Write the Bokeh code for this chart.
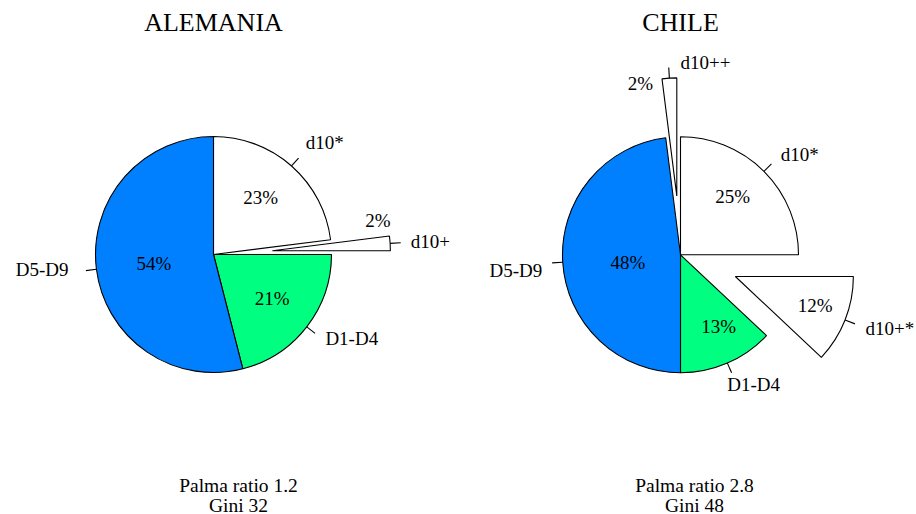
import math
from bokeh.plotting import figure
from bokeh.models import Range1d, ColumnDataSource
from bokeh.embed import file_html
from bokeh.resources import INLINE
from bokeh.core.properties import value

# ---------------- data ----------------
titles = ["ALEMANIA", "CHILE"]
subtitle_palma = ["Palma ratio 1.2", "Palma ratio 2.8"]
subtitle_gini = ["Gini 32", "Gini 48"]

de_names = ["d10*", "d10+", "D1-D4", "D5-D9"]
de_shares = [23, 2, 21, 54]
de_explode = [0, 1, 0, 0]

cl_names = ["d10*", "d10+*", "D1-D4", "D5-D9", "d10++"]
cl_shares = [25, 12, 13, 48, 2]
cl_explode = [0, 1, 0, 0, 1]

# ---------------- style / layout ----------------
FONT = value("Liberation Serif")
COLORS = {"D1-D4": "#00FF80", "D5-D9": "#0080FF"}
W, H = 916, 514
R = 118
EXPL = 59
PAGE_H = 514

def Y(iy):
    return PAGE_H - iy

charts = [
    dict(names=de_names, shares=de_shares, explode=de_explode,
         center=(213, 254), sub_x=238,
         pct_r=[0.63, 0.93, 0.62, 0.51], pct_da=[2, 12.5, 1, 1.3],
         align=["left", "left", "left", "right"],
         ndx=[-1.5, -3, 0, -4.5], ndy=[-6, 0, -3, -3]),
    dict(names=cl_names, shares=cl_shares, explode=cl_explode,
         center=(680, 254.3), sub_x=694,
         pct_r=[0.66, 0.72, 0.69, 0.45, 1.0], pct_da=[3, 1.7, 4.5, 4.4, 14.3],
         align=["left", "left", "left", "right", "left"],
         ndx=[0, -1.5, -9.5, 3, 12.6], ndy=[0, 0, 0, 7, 7.6]),
]

p = figure(width=W, height=H, output_backend="svg", toolbar_location=None,
           x_range=Range1d(0, W), y_range=Range1d(PAGE_H - H, PAGE_H),
           min_border=0)
p.axis.visible = False
p.grid.visible = False
p.outline_line_color = None
p.background_fill_color = "white"

wedges = dict(x=[], y=[], s=[], e=[], c=[])
segs = dict(x0=[], y0=[], x1=[], y1=[])
pcts = dict(x=[], y=[], t=[])
names = {"left": dict(x=[], y=[], t=[]), "right": dict(x=[], y=[], t=[]),
         "center": dict(x=[], y=[], t=[])}

for ch in charts:
    cx0, cy0 = ch["center"][0], Y(ch["center"][1])
    cum = 0
    for i, s in enumerate(ch["shares"]):
        a0 = 90 - cum * 3.6
        a1 = 90 - (cum + s) * 3.6
        cum += s
        mid = math.radians((a0 + a1) / 2)
        cx, cy = cx0, cy0
        if ch["explode"][i]:
            cx += EXPL * math.cos(mid)
            cy += EXPL * math.sin(mid)
        nm = ch["names"][i]
        wedges["x"].append(cx); wedges["y"].append(cy)
        wedges["s"].append(math.radians(a1)); wedges["e"].append(math.radians(a0))
        wedges["c"].append(COLORS.get(nm, "white"))
        segs["x0"].append(cx + R * math.cos(mid)); segs["y0"].append(cy + R * math.sin(mid))
        segs["x1"].append(cx + 1.09 * R * math.cos(mid)); segs["y1"].append(cy + 1.09 * R * math.sin(mid))
        pa = mid + math.radians(ch["pct_da"][i])
        pr = ch["pct_r"][i] * R
        pcts["x"].append(cx + pr * math.cos(pa)); pcts["y"].append(cy + pr * math.sin(pa))
        pcts["t"].append(f"{s}%")
        al = ch["align"][i]
        names[al]["x"].append(cx + 1.2 * R * math.cos(mid) + ch["ndx"][i])
        names[al]["y"].append(cy + 1.2 * R * math.sin(mid) - ch["ndy"][i])
        names[al]["t"].append(nm)

p.wedge(x="x", y="y", radius=R, start_angle="s", end_angle="e", direction="anticlock",
        fill_color="c", line_color="black", line_width=1.1, source=ColumnDataSource(wedges))
p.segment(x0="x0", y0="y0", x1="x1", y1="y1", line_color="black", line_width=1.1,
          source=ColumnDataSource(segs))
p.text(x="x", y="y", text="t", source=ColumnDataSource(pcts), text_font=FONT,
       text_font_size="19px", text_align="center", text_baseline="middle", text_color="black")
for al, d in names.items():
    if d["t"]:
        p.text(x="x", y="y", text="t", source=ColumnDataSource(d), text_font=FONT,
               text_font_size="19px", text_align=al, text_baseline="middle", text_color="black")

# titles and subtitles
tx = [ch["center"][0] for ch in charts]
p.text(x=tx, y=[Y(22), Y(22)], text=titles, text_font=FONT, text_font_size="26px",
       text_align="center", text_baseline="middle", text_color="black")
sx = [ch["sub_x"] for ch in charts]
p.text(x=sx, y=[Y(484.5)] * 2, text=subtitle_palma, text_font=FONT, text_font_size="19.5px",
       text_align="center", text_baseline="middle", text_color="black")
p.text(x=sx, y=[Y(504.5)] * 2, text=subtitle_gini, text_font=FONT, text_font_size="19.5px",
       text_align="center", text_baseline="middle", text_color="black")

open("out.html", "w").write(file_html(p, INLINE))
